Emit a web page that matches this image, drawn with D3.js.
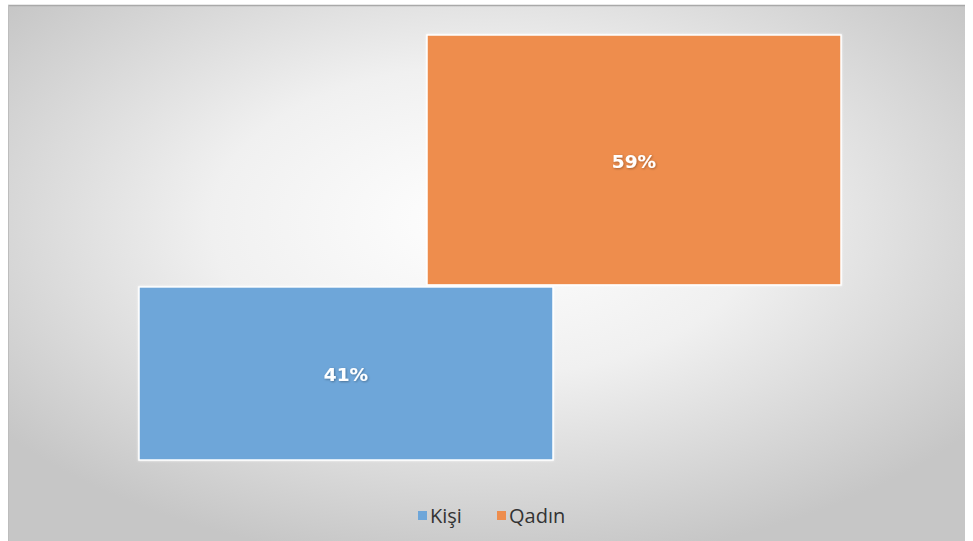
<!DOCTYPE html>
<html>
<head>
<meta charset="utf-8">
<script src="https://cdn.jsdelivr.net/npm/d3@7"></script>
<style>
  html, body { margin: 0; padding: 0; background: #ffffff; }
  svg { display: block; }
</style>
</head>
<body>
<svg id="chart" width="973" height="541"></svg>
<script>
// Series: each sits on top of the previous one (stacked columns)
const seriesNames = ["Kişi", "Qadın"];
const seriesValues = [41, 59];
const seriesLabels = ["41%", "59%"];
const seriesColors = ["#6ea6d9", "#ee8d4d"];

const svg = d3.select("#chart");

// Chart-area background: soft radial fade from white to grey
const defs = svg.append("defs");
const grad = defs.append("radialGradient")
  .attr("id", "bg").attr("cx", "50%").attr("cy", "40%").attr("r", "64%")
  .attr("gradientUnits", "objectBoundingBox");
grad.append("stop").attr("offset", "0%").attr("stop-color", "#ffffff");
grad.append("stop").attr("offset", "45%").attr("stop-color", "#f0f0f0");
grad.append("stop").attr("offset", "100%").attr("stop-color", "#c6c6c6");

const shadow = defs.append("filter").attr("id", "barShadow")
  .attr("x", "-5%").attr("y", "-5%").attr("width", "110%").attr("height", "110%");
shadow.append("feDropShadow").attr("dx", 0).attr("dy", 0).attr("stdDeviation", 1.2)
  .attr("flood-color", "#ffffff").attr("flood-opacity", 0.9);

const txtShadow = defs.append("filter").attr("id", "txtShadow")
  .attr("x", "-20%").attr("y", "-30%").attr("width", "140%").attr("height", "160%");
txtShadow.append("feDropShadow").attr("dx", 0.8).attr("dy", 0.8).attr("stdDeviation", 0.8)
  .attr("flood-color", "#000000").attr("flood-opacity", 0.35);

svg.append("rect").attr("x", 8).attr("y", 5).attr("width", 957).attr("height", 540)
  .attr("fill", "url(#bg)");
svg.append("line").attr("x1", 8).attr("x2", 965).attr("y1", 5.5).attr("y2", 5.5)
  .attr("stroke", "#a9a9a9").attr("stroke-width", 1.5);
svg.append("line").attr("x1", 8.5).attr("x2", 8.5).attr("y1", 5).attr("y2", 541)
  .attr("stroke", "#bdbdbd").attr("stroke-width", 1);

// Scales
const y = d3.scaleLinear().domain([0, 100]).range([461, 34]);
const x = d3.scaleBand().domain(seriesNames).range([202, 778]).paddingInner(0).paddingOuter(0);
const barW = x.bandwidth() * 1.4375;

// Stack the values
let acc = 0;
const bars = seriesNames.map((name, i) => {
  const y0 = acc; acc += seriesValues[i];
  return { name, y0, y1: acc, label: seriesLabels[i], color: seriesColors[i] };
});

const g = svg.append("g");
g.selectAll("rect.bar").data(bars).join("rect")
  .attr("class", "bar")
  .attr("x", d => x(d.name) + x.bandwidth() / 2 - barW / 2)
  .attr("y", d => y(d.y1) + 1)
  .attr("width", barW)
  .attr("height", d => y(d.y0) - y(d.y1) - 2)
  .attr("fill", d => d.color)
  .attr("stroke", "#ffffff")
  .attr("stroke-width", 1.5)
  .attr("filter", "url(#barShadow)");

g.selectAll("text.lbl").data(bars).join("text")
  .attr("class", "lbl")
  .attr("x", d => x(d.name) + x.bandwidth() / 2)
  .attr("y", d => (y(d.y0) + y(d.y1)) / 2 + 1.5)
  .attr("dy", "0.35em")
  .attr("text-anchor", "middle")
  .attr("fill", "#ffffff")
  .attr("font-family", "'DejaVu Sans', Verdana, sans-serif")
  .attr("font-weight", "bold")
  .attr("font-size", 18.5)
  .attr("filter", "url(#txtShadow)")
  .text(d => d.label);

// Legend
const legendItems = [
  { name: seriesNames[0], color: seriesColors[0], x: 418 },
  { name: seriesNames[1], color: seriesColors[1], x: 497 }
];
const lg = svg.append("g");
lg.selectAll("rect").data(legendItems).join("rect")
  .attr("x", d => d.x).attr("y", 511).attr("width", 9).attr("height", 9)
  .attr("fill", d => d.color);
lg.selectAll("text").data(legendItems).join("text")
  .attr("x", d => d.x + 12).attr("y", 516).attr("dy", "0.35em")
  .attr("font-family", "'Open Sans', 'DejaVu Sans', sans-serif")
  .attr("font-size", 20)
  .attr("fill", "#333333")
  .text(d => d.name);
</script>
</body>
</html>
